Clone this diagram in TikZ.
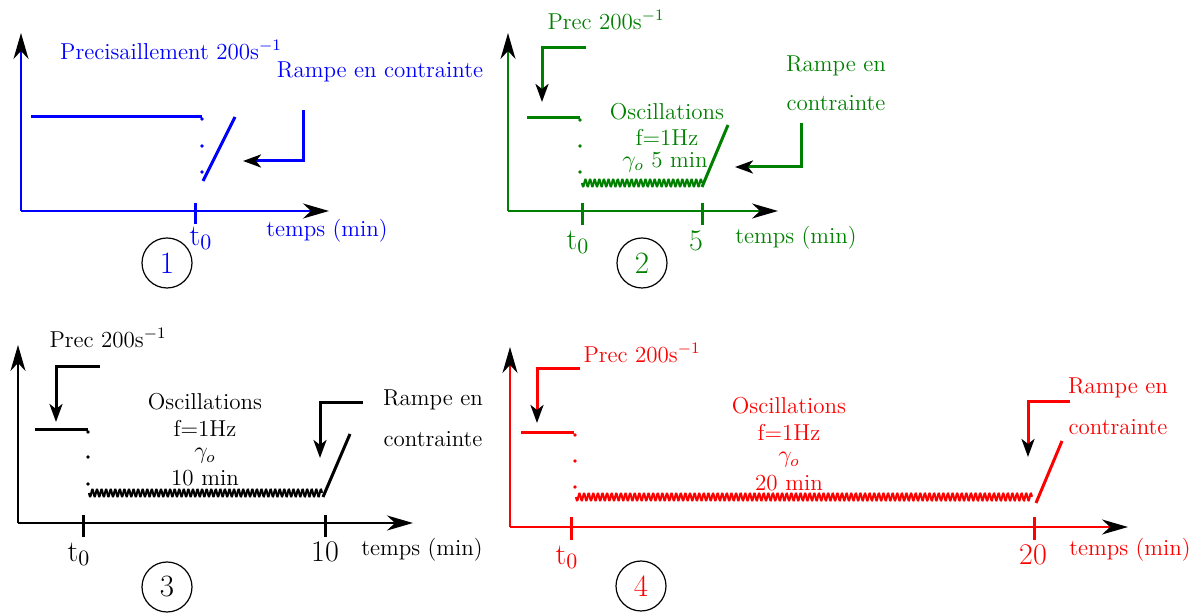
\documentclass[tikz,border=0pt]{standalone}
\usetikzlibrary{arrows.meta}
\definecolor{cblue}{RGB}{0,0,255}
\definecolor{cgreen}{RGB}{0,128,0}
\definecolor{cred}{RGB}{255,0,0}
\tikzset{
  axline/.style={line width=1pt,-{Stealth[length=13pt,width=7.5pt,inset=4pt,color=black]}},
  annarrow/.style={line width=1.5pt,-{Stealth[length=9pt,width=6.5pt,inset=2.5pt,color=black]}},
  tickline/.style={line width=1.5pt},
  plateau/.style={line width=1.5pt},
  ramp/.style={line width=1.5pt},
  wave/.style={line width=1pt,smooth},
  smalltxt/.style={font=\fontsize{11.5}{13}\selectfont,inner sep=0pt},
  bigtxt/.style={font=\fontsize{15}{18}\selectfont,inner sep=0pt},
  numcircle/.style={circle,draw=black,line width=0.6pt,minimum size=25pt,inner sep=0pt,font=\fontsize{15.5}{18}\selectfont},
  dotmark/.style={fill,circle,inner sep=0pt,minimum size=1.8pt}
}
\begin{document}
\begin{tikzpicture}[x=0.5pt,y=-0.5pt]
\useasboundingbox (0,0) rectangle (1200,613);

% ---------------- Panel 1 (blue) ----------------
\begin{scope}[color=cblue]
\coordinate (p1o) at (21,211);
\coordinate (p1y) at (21,33);
\coordinate (p1x) at (329,211);
\draw[axline] (p1o) -- (p1y);
\draw[axline] (p1o) -- (p1x);
\coordinate (p1ta) at (195,203); \coordinate (p1tb) at (195,224);
\draw[tickline] (p1ta) -- (p1tb);
\node[bigtxt,text=cblue] (p1t0) at (201,238) {t$_0$};
\node[numcircle,text=cblue] (p1c) at (167,263) {1};
\coordinate (p1pa) at (31,117); \coordinate (p1pb) at (202,117);
\draw[plateau] (p1pa) -- (p1pb);
\node[dotmark] (p1d1) at (202,119) {};
\node[dotmark] (p1d2) at (202,146) {};
\node[dotmark] (p1d3) at (202,172) {};
\coordinate (p1ra) at (203,181); \coordinate (p1rb) at (235,117);
\draw[ramp] (p1ra) -- (p1rb);
\coordinate (p1aa) at (303,110); \coordinate (p1ab) at (303,161); \coordinate (p1ac) at (243,161);
\draw[annarrow] (p1aa) -- (p1ab) -- (p1ac);
\node[smalltxt,text=cblue] (p1pre) at (171,50) {Precisaillement 200s$^{-1}$};
\node[smalltxt,text=cblue] (p1ram) at (380,72) {Rampe en contrainte};
\node[smalltxt,text=cblue] (p1tps) at (327,231) {temps (min)};
\end{scope}

% ---------------- Panel 2 (green) ----------------
\begin{scope}[color=cgreen]
\coordinate (p2o) at (508,211);
\coordinate (p2y) at (508,33);
\coordinate (p2x) at (778,211);
\draw[axline,line width=0.8pt] (p2o) -- (p2y);
\draw[axline,line width=0.8pt] (p2o) -- (p2x);
\coordinate (p2ta) at (582,203); \coordinate (p2tb) at (582,225);
\draw[tickline] (p2ta) -- (p2tb);
\coordinate (p2sa) at (702,203); \coordinate (p2sb) at (702,225);
\draw[tickline] (p2sa) -- (p2sb);
\node[bigtxt,text=cgreen] (p2t0) at (578,242) {t$_0$};
\node[bigtxt,text=cgreen] (p2five) at (696,241) {5};
\node[numcircle,text=cgreen] (p2c) at (642,263) {2};
\coordinate (p2pa) at (527,118); \coordinate (p2pb) at (580,118);
\draw[plateau] (p2pa) -- (p2pb);
\node[dotmark] (p2d1) at (580,120) {};
\node[dotmark] (p2d2) at (580,146) {};
\node[dotmark] (p2d3) at (580,172) {};
\draw[wave,domain=0:26,samples=261] plot ({582+\x*4.615},{183+3.6*sin(mod(\x,1)*360)});
\coordinate (p2ra) at (702,187); \coordinate (p2rb) at (728,125);
\draw[ramp] (p2ra) -- (p2rb);
\coordinate (p2aa) at (586,48); \coordinate (p2ab) at (542,48); \coordinate (p2ac) at (542,102);
\draw[annarrow] (p2aa) -- (p2ab) -- (p2ac);
\coordinate (p2ba) at (801,123); \coordinate (p2bb) at (801,167); \coordinate (p2bc) at (735,167);
\draw[annarrow] (p2ba) -- (p2bb) -- (p2bc);
\node[smalltxt,text=cgreen] (p2pre) at (606,20) {Prec 200s$^{-1}$};
\node[smalltxt,text=cgreen] (p2osc) at (667,112) {Oscillations};
\node[smalltxt,text=cgreen] (p2f) at (667,137) {f=1Hz};
\node[smalltxt,text=cgreen] (p2g) at (665,162) {$\gamma_o$ 5 min};
\node[smalltxt,text=cgreen] (p2ram1) at (836,66) {Rampe en};
\node[smalltxt,text=cgreen] (p2ram2) at (836,103) {contrainte};
\node[smalltxt,text=cgreen] (p2tps) at (796,238) {temps (min)};
\end{scope}

% ---------------- Panel 3 (black) ----------------
\begin{scope}[color=black]
\coordinate (p3o) at (18,523);
\coordinate (p3y) at (18,345);
\coordinate (p3x) at (413,523);
\draw[axline] (p3o) -- (p3y);
\draw[axline] (p3o) -- (p3x);
\coordinate (p3ta) at (83,515); \coordinate (p3tb) at (83,537);
\draw[tickline] (p3ta) -- (p3tb);
\coordinate (p3sa) at (325,515); \coordinate (p3sb) at (325,537);
\draw[tickline] (p3sa) -- (p3sb);
\node[bigtxt] (p3t0) at (79,554) {t$_0$};
\node[bigtxt] (p3ten) at (325,552) {10};
\node[numcircle] (p3c) at (167,587) {3};
\coordinate (p3pa) at (35,430); \coordinate (p3pb) at (88,430);
\draw[plateau] (p3pa) -- (p3pb);
\node[dotmark] (p3d1) at (88,432) {};
\node[dotmark] (p3d2) at (88,457) {};
\node[dotmark] (p3d3) at (88,484) {};
\draw[wave,domain=0:51,samples=511] plot ({89+\x*4.569},{493+3.6*sin(mod(\x,1)*360)});
\coordinate (p3ra) at (323,497); \coordinate (p3rb) at (350,434);
\draw[ramp] (p3ra) -- (p3rb);
\coordinate (p3aa) at (100,367); \coordinate (p3ab) at (56,367); \coordinate (p3ac) at (56,422);
\draw[annarrow] (p3aa) -- (p3ab) -- (p3ac);
\coordinate (p3ba) at (363,403); \coordinate (p3bb) at (320,403); \coordinate (p3bc) at (320,458);
\draw[annarrow] (p3ba) -- (p3bb) -- (p3bc);
\node[smalltxt] (p3pre) at (108,338) {Prec 200s$^{-1}$};
\node[smalltxt] (p3osc) at (205,402) {Oscillations};
\node[smalltxt] (p3f) at (205,428) {f=1Hz};
\node[smalltxt] (p3g) at (205,456) {$\gamma_o$};
\node[smalltxt] (p3min) at (205,478) {10 min};
\node[smalltxt] (p3ram1) at (433,400) {Rampe en};
\node[smalltxt] (p3ram2) at (433,439) {contrainte};
\node[smalltxt] (p3tps) at (422,550) {temps (min)};
\end{scope}

% ---------------- Panel 4 (red) ----------------
\begin{scope}[color=cred]
\coordinate (p4o) at (510,527);
\coordinate (p4y) at (510,347);
\coordinate (p4x) at (1128,527);
\draw[axline,line width=0.8pt] (p4o) -- (p4y);
\draw[axline,line width=0.8pt] (p4o) -- (p4x);
\coordinate (p4ta) at (571,517); \coordinate (p4tb) at (571,540);
\draw[tickline] (p4ta) -- (p4tb);
\coordinate (p4sa) at (1034,517); \coordinate (p4sb) at (1034,540);
\draw[tickline] (p4sa) -- (p4sb);
\node[bigtxt,text=cred] (p4t0) at (567,557) {t$_0$};
\node[bigtxt,text=cred] (p4tw) at (1033,555) {20};
\node[numcircle,text=cred] (p4c) at (641,586) {4};
\coordinate (p4pa) at (521,433); \coordinate (p4pb) at (574,433);
\draw[plateau] (p4pa) -- (p4pb);
\node[dotmark] (p4d1) at (575,435) {};
\node[dotmark] (p4d2) at (575,461) {};
\node[dotmark] (p4d3) at (575,487) {};
\draw[wave,domain=0:99,samples=991] plot ({576+\x*4.606},{497+3.6*sin(mod(\x,1)*360)});
\coordinate (p4ra) at (1036,503); \coordinate (p4rb) at (1062,441);
\draw[ramp] (p4ra) -- (p4rb);
\coordinate (p4aa) at (580,369); \coordinate (p4ab) at (537,369); \coordinate (p4ac) at (537,423);
\draw[annarrow] (p4aa) -- (p4ab) -- (p4ac);
\coordinate (p4ba) at (1070,402); \coordinate (p4bb) at (1028,402); \coordinate (p4bc) at (1028,457);
\draw[annarrow] (p4ba) -- (p4bb) -- (p4bc);
\node[smalltxt,text=cred] (p4pre) at (642,353) {Prec 200s$^{-1}$};
\node[smalltxt,text=cred] (p4osc) at (789,406) {Oscillations};
\node[smalltxt,text=cred] (p4f) at (789,432) {f=1Hz};
\node[smalltxt,text=cred] (p4g) at (789,460) {$\gamma_o$};
\node[smalltxt,text=cred] (p4min) at (789,483) {20 min};
\node[smalltxt,text=cred] (p4ram1) at (1118,388) {Rampe en};
\node[smalltxt,text=cred] (p4ram2) at (1118,427) {contrainte};
\node[smalltxt,text=cred] (p4tps) at (1130,550) {temps (min)};
\end{scope}
\end{tikzpicture}
\end{document}
